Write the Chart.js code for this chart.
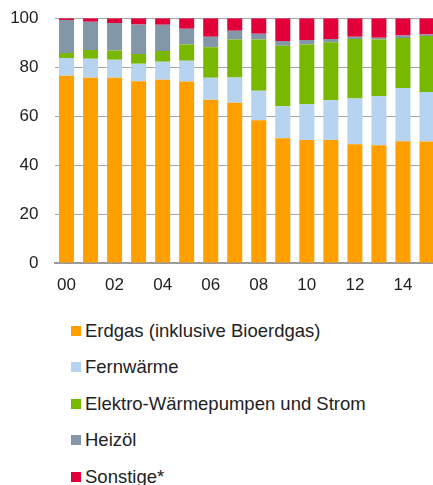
<!DOCTYPE html>
<html>
<head>
<meta charset="utf-8">
<script src="https://cdn.jsdelivr.net/npm/chart.js@4"></script>
<style>
  body { margin: 0; overflow: hidden; background: #fff; font-family: "Liberation Sans", Arial, sans-serif; }
  #wrap { position: relative; width: 433px; height: 485px; overflow: hidden; }
  #chart { position: absolute; left: 0; top: -8px; }
  #legend { position: absolute; left: 71px; top: 312.5px; }
  .item { height: 36.5px; display: flex; align-items: center; font-size: 18.5px; color: #222; }
  .box { width: 10px; height: 10px; margin-right: 4px; flex: none; }
</style>
</head>
<body>
<div id="wrap">
  <canvas id="chart" width="439" height="308"></canvas>
  <div id="legend"></div>
</div>
<script>
var years = ["00","01","02","03","04","05","06","07","08","09","10","11","12","13","14","15"];
var erdgas   = [76.5, 75.7, 75.7, 74.2, 74.9, 74.1, 66.7, 65.5, 58.3, 51.0, 50.2, 50.2, 48.5, 48.1, 49.7, 49.6];
var fernwaerme = [7.2, 7.7, 7.3, 7.2, 7.3, 8.5, 9.0, 10.3, 12.1, 13.0, 14.6, 16.3, 18.7, 20.0, 21.8, 20.3];
var elektro  = [2.1, 3.6, 3.8, 4.0, 4.4, 6.7, 12.4, 15.5, 20.9, 24.7, 24.5, 23.7, 24.3, 23.2, 20.4, 22.8];
var heizoel  = [13.5, 11.5, 11.2, 12.0, 10.7, 6.4, 4.3, 3.6, 2.3, 2.0, 1.8, 1.3, 0.9, 0.7, 1.0, 0.6];
var sonstige = [0.7, 1.5, 2.0, 2.6, 2.7, 4.3, 7.6, 5.1, 6.4, 9.3, 8.9, 8.5, 7.6, 8.0, 7.1, 6.7];
var yTicks = [0, 20, 40, 60, 80, 100];

var seriesNames = ["Erdgas (inklusive Bioerdgas)", "Fernwärme", "Elektro-Wärmepumpen und Strom", "Heizöl", "Sonstige*"];
var colors = ["#ffa000", "#b6d3ef", "#78b800", "#8497a9", "#e2003a"];
var values = [erdgas, fernwaerme, elektro, heizoel, sonstige];

Chart.defaults.font.family = '"Liberation Sans", Arial, sans-serif';
Chart.defaults.color = "#222";

var chart = new Chart(document.getElementById("chart"), {
  type: "bar",
  data: {
    labels: years,
    datasets: seriesNames.map(function (name, i) {
      return {
        label: name,
        data: values[i],
        backgroundColor: colors[i],
        barPercentage: 0.625,
        categoryPercentage: 1
      };
    })
  },
  options: {
    responsive: false,
    animation: false,
    devicePixelRatio: 1,
    layout: { padding: { top: 9, left: 0, right: 0, bottom: 0 } },
    plugins: { legend: { display: false }, tooltip: { enabled: false } },
    scales: {
      x: {
        stacked: true,
        grid: { display: false, drawTicks: false },
        border: { display: true, color: "#9a9a9a", width: 2 },
        ticks: {
          autoSkip: false,
          maxRotation: 0,
          padding: 12,
          font: { size: 17 },
          callback: function (v, i) { return i % 2 === 0 ? years[i] : ""; }
        },
        afterFit: function (s) { s.height = 37; }
      },
      y: {
        stacked: true,
        min: 0,
        max: 100,
        afterBuildTicks: function (s) { s.ticks = yTicks.map(function (v) { return { value: v }; }); },
        grid: { color: "#a6a6a6", lineWidth: 1, drawTicks: false },
        border: { display: false },
        ticks: { padding: 16, font: { size: 17 } },
        afterFit: function (s) { s.width = 54.5; }
      }
    }
  }
});

var legend = document.getElementById("legend");
chart.data.datasets.forEach(function (ds) {
  var row = document.createElement("div");
  row.className = "item";
  var box = document.createElement("span");
  box.className = "box";
  box.style.background = ds.backgroundColor;
  row.appendChild(box);
  row.appendChild(document.createTextNode(ds.label));
  legend.appendChild(row);
});
</script>
</body>
</html>
